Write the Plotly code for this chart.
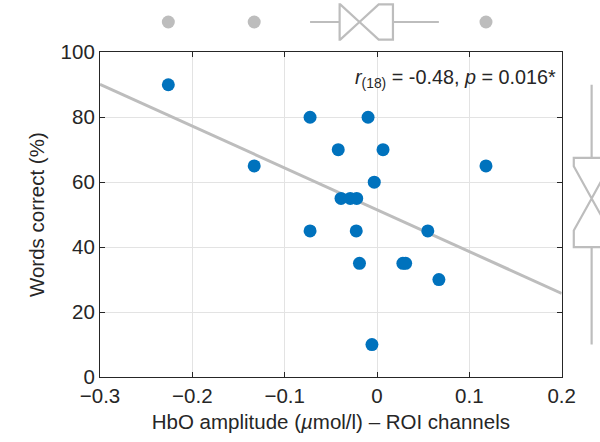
import plotly.graph_objects as go

# HbO amplitude (µmol/l) per participant, ROI channels
hbo_amplitude = [-0.226, -0.133, -0.0725, -0.0725, -0.042, -0.0097, 0.0065, -0.003,
                 -0.039, -0.029, -0.022, -0.0225, -0.019, 0.028, 0.031, 0.067,
                 0.055, 0.118, -0.0055]
# Words correct (%) per participant
words_correct = [90, 65, 80, 45, 70, 80, 70, 60,
                 55, 55, 55, 45, 35, 35, 35, 30,
                 45, 65, 10]

# least-squares fit line (intercept, slope)
fit_intercept = 51.5
fit_slope = -128.8
fit_x = [-0.3, 0.2]

x_ticks = [-0.3, -0.2, -0.1, 0, 0.1, 0.2]
y_ticks = [0, 20, 40, 60, 80, 100]

stats_text = "<i>r</i><sub>(18)</sub> = -0.48, <i>p</i> = 0.016*"

BLUE = "#0072BD"
GREY = "#BDBDBD"
INK = "#262626"
FONT = "Liberation Sans, Arial, sans-serif"
FS = 20.5

fig = go.Figure()

# regression line
fig.add_trace(go.Scatter(
    x=fit_x, y=[fit_intercept + fit_slope * v for v in fit_x],
    mode="lines", line=dict(color=GREY, width=3),
    xaxis="x", yaxis="y", hoverinfo="skip", showlegend=False))

# participants
fig.add_trace(go.Scatter(
    x=hbo_amplitude, y=words_correct, mode="markers",
    marker=dict(color=BLUE, size=13, line=dict(width=0)),
    xaxis="x", yaxis="y", showlegend=False))

box_style = dict(
    notched=True, notchwidth=0.5, boxpoints="outliers", jitter=0, pointpos=0,
    line=dict(color=GREY, width=2.2), fillcolor="rgba(0,0,0,0)",
    marker=dict(color=GREY, size=13, line=dict(width=0)),
    quartilemethod="inclusive", whiskerwidth=0, showlegend=False,
)

# marginal box of HbO amplitude (top)
fig.add_trace(go.Box(x=hbo_amplitude, y0=0, orientation="h", width=1.6,
                     xaxis="x2", yaxis="y2", **box_style))

# marginal box of words correct (right)
fig.add_trace(go.Box(y=words_correct, x0=0, orientation="v", width=35.4,
                     xaxis="x3", yaxis="y3", **box_style))

main_dom_x = [0, 0.9234]
main_dom_y = [0, 0.8613]

axis_common = dict(
    showline=True, linecolor=INK, linewidth=1.2, mirror="ticks",
    ticks="inside", ticklen=5, tickcolor=INK, tickwidth=1,
    showgrid=True, gridcolor="#E3E3E3", gridwidth=1, zeroline=False,
    automargin=False,
    tickfont=dict(family=FONT, size=FS, color=INK),
)
hidden = dict(visible=False, showgrid=False, zeroline=False, automargin=False)

fig.update_layout(
    width=600, height=442,
    margin=dict(l=100, r=0, t=0, b=65, autoexpand=False),
    paper_bgcolor="white", plot_bgcolor="rgba(0,0,0,0)",
    font=dict(family=FONT, color=INK),
    showlegend=False,
    xaxis=dict(domain=main_dom_x, range=[-0.3, 0.2], tickvals=x_ticks,
               anchor="y",
               title=dict(text="HbO amplitude (<i>µ</i>mol/l) – ROI channels",
                          font=dict(family=FONT, size=FS, color=INK), standoff=8),
               **axis_common),
    yaxis=dict(domain=main_dom_y, range=[0, 100], tickvals=y_ticks,
               anchor="x",
               title=dict(text="Words correct (%)",
                          font=dict(family=FONT, size=FS, color=INK), standoff=10),
               **axis_common),
    xaxis2=dict(domain=main_dom_x, range=[-0.3, 0.2], anchor="y2", **hidden),
    yaxis2=dict(domain=[0.8833, 1.0], range=[-1, 1], anchor="x2", **hidden),
    xaxis3=dict(domain=[0.9234, 1.0], range=[-29.7, 8.3], anchor="y3", **hidden),
    yaxis3=dict(domain=main_dom_y, range=[0, 100], anchor="x3", **hidden),
    annotations=[dict(
        text=stats_text, x=0.2, y=92, xref="x", yref="y",
        xanchor="right", yanchor="middle", xshift=-4, showarrow=False,
        font=dict(family=FONT, size=19.8, color=INK))],
)

fig.write_html("out.html")
